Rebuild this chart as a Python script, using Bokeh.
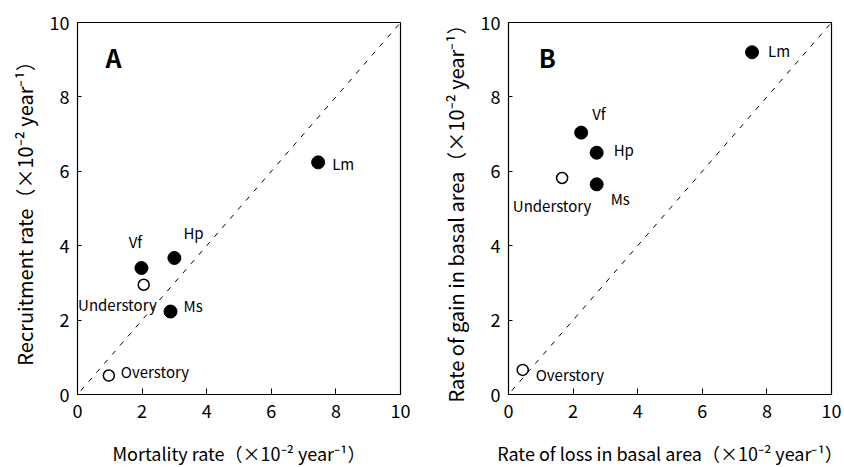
from bokeh.plotting import figure
from bokeh.layouts import row
from bokeh.models import Range1d, Label, ColumnDataSource, FixedTicker
from bokeh.core.properties import value
from bokeh.embed import file_html
from bokeh.resources import INLINE

FONT = "Noto Sans CJK JP"

# Panel A data
a_names = ["Lm", "Hp", "Vf", "Ms", "Understory", "Overstory"]
a_mort = [7.45, 3.0, 1.98, 2.88, 2.05, 0.97]
a_recr = [6.24, 3.67, 3.40, 2.23, 2.95, 0.51]
a_filled = [True, True, True, True, False, False]

# Panel B data
b_names = ["Lm", "Vf", "Hp", "Ms", "Understory", "Overstory"]
b_loss = [7.54, 2.25, 2.73, 2.73, 1.66, 0.44]
b_gain = [9.20, 7.04, 6.50, 5.65, 5.82, 0.66]
b_filled = [True, True, True, True, False, False]

ticks = [0, 2, 4, 6, 8, 10]
diag = [0.1, 10]

# label styles (pixel offsets, alignment)
a_xoff = [14, 9, -6, 13, 13, 12]
a_yoff = [1, -25, -27, -6, 20, -4]
a_align = ["left", "left", "center", "left", "right", "left"]
b_xoff = [16, 11, 17, 14, -10, 13]
b_yoff = [-2, -19, -3, 14, 28, 5]
b_align = ["left", "left", "left", "left", "center", "left"]


def panel(xs, ys, filled, names, xoff, yoff, align, xlabel, ylabel, letter,
          bl, br, letter_x):
    p = figure(frame_width=323, frame_height=372, output_backend="svg",
               toolbar_location=None,
               x_range=Range1d(0, 10), y_range=Range1d(0, 10),
               min_border_left=bl, min_border_right=br, min_border_top=22,
               min_border_bottom=72)
    p.grid.visible = False
    p.outline_line_color = "black"
    p.outline_line_width = 1.2
    p.background_fill_color = "white"
    for ax in (p.xaxis[0], p.yaxis[0]):
        ax.ticker = FixedTicker(ticks=ticks)
        ax.minor_tick_line_color = None
        ax.major_tick_out = 0
        ax.axis_line_color = "black"
        ax.major_tick_line_color = "black"
        ax.major_label_text_font = FONT
        ax.major_label_text_font_size = "18px"
        ax.major_label_text_color = "black"
        ax.axis_label_text_font = FONT
        ax.axis_label_text_font_style = "normal"
        ax.axis_label_text_color = "black"
    p.xaxis.axis_label_text_font_size = "18px"
    p.yaxis.axis_label_text_font_size = "20px"
    p.xaxis.major_tick_in = 6
    p.yaxis.major_tick_in = 4
    p.xaxis.major_label_standoff = 9
    p.yaxis.major_label_standoff = 8
    p.xaxis.axis_label_standoff = 19
    p.yaxis.axis_label_standoff = 8
    p.xaxis.axis_label = xlabel
    p.yaxis.axis_label = ylabel

    p.line(diag, diag, line_color="black", line_dash="5 7", line_width=1)

    fx = [x for x, f in zip(xs, filled) if f]
    fy = [y for y, f in zip(ys, filled) if f]
    ox = [x for x, f in zip(xs, filled) if not f]
    oy = [y for y, f in zip(ys, filled) if not f]
    p.scatter(fx, fy, size=13, marker="circle", fill_color="black", line_color="black")
    p.scatter(ox, oy, size=11, marker="circle", fill_color="white", line_color="black",
              line_width=1.5)

    src = ColumnDataSource(dict(x=xs, y=ys, t=names, xo=xoff, yo=yoff, al=align))
    p.text(x="x", y="y", text="t", x_offset="xo", y_offset="yo", text_align="al",
           text_baseline="middle", source=src, text_font=value(FONT),
           text_font_size="15px", text_color="black")

    p.add_layout(Label(x=letter_x, y=9.08, text=letter, text_font=FONT,
                       text_font_size="25px", text_font_style="bold",
                       text_baseline="middle", text_color="black"))
    return p


pa = panel(a_mort, a_recr, a_filled, a_names, a_xoff, a_yoff, a_align,
           "Mortality rate（×10⁻² year⁻¹）", "Recruitment rate（×10⁻² year⁻¹）",
           "A", 77, 23, 0.87)
pb = panel(b_loss, b_gain, b_filled, b_names, b_xoff, b_yoff, b_align,
           "Rate of loss in basal area（×10⁻² year⁻¹）",
           "Rate of gain in basal area（×10⁻² year⁻¹）",
           "B", 85, 13, 0.94)

layout = row(pa, pb)
open("out.html", "w").write(file_html(layout, INLINE))
